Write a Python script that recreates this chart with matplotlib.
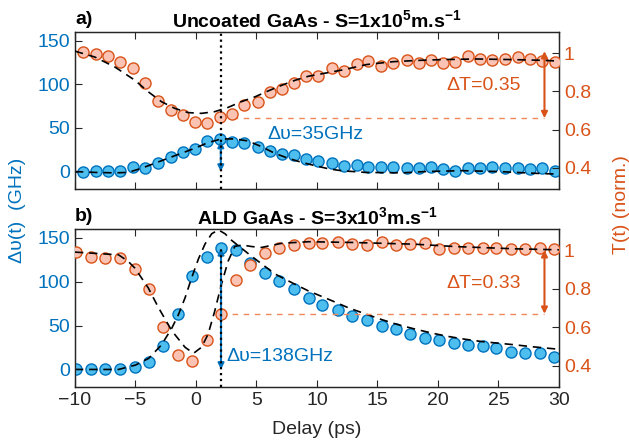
import numpy as np
from matplotlib import pyplot as plt

plt.rcParams['font.family'] = ['Liberation Sans', 'DejaVu Sans']
plt.rcParams['mathtext.fontset'] = 'custom'
plt.rcParams['mathtext.rm'] = 'Liberation Sans'
plt.rcParams['mathtext.bf'] = 'Liberation Sans:bold'
plt.rcParams['mathtext.default'] = 'bf'

BLUE = '#0072BD'
BLUE_FACE = '#4DBEEE'
ORANGE = '#D95319'
ORANGE_FACE = '#FBC3B3'
ORANGE_LINE = '#EE875A'

# a) uncoated GaAs
top_delay = [-9.3, -8.3, -7.3, -6.3, -5.2, -4.2, -3.1, -2.1, -1.1, -0.1,
             0.9, 2.0, 3.0, 4.0, 5.1, 6.1, 7.1, 8.1, 9.1, 10.1,
             11.2, 12.2, 13.3, 14.2, 15.3, 16.3, 17.4, 18.4, 19.4, 20.4,
             21.4, 22.5, 23.5, 24.5, 25.5, 26.6, 27.6, 28.6, 29.7]
top_shift = [0, 0.8, 1.1, 0.8, 5, 3.9, 10.3, 17.2, 22.9, 26,
             35.2, 37, 34.4, 33.2, 28.6, 24, 20.3, 19.1, 14.5, 12.3,
             10.3, 6.9, 7.7, 5.7, 5.7, 5.7, 3.9, 3.9, 5.7, 3.1,
             1.1, 4.6, 4.6, 5.7, 4.6, 4.6, 3.1, 3.9, 1.1]
top_T = [1.005, 0.993, 0.983, 0.953, 0.922, 0.846, 0.751, 0.702, 0.677, 0.639,
         0.635, 0.668, 0.682, 0.727, 0.742, 0.796, 0.810, 0.844, 0.879, 0.879,
         0.922, 0.907, 0.945, 0.957, 0.933, 0.950, 0.962, 0.950, 0.966, 0.950,
         0.955, 0.986, 0.967, 0.962, 0.969, 0.979, 0.971, 0.960, 0.953]

top_fit_T_delay = [-10, -8.35, -6.7, -5.05, -3.95, -2.85, -1.75, -0.65, 0.45, 1.55,
                   2.65, 3.75, 4.9, 6.0, 7.1, 8.2, 9.3, 10.25, 12.2, 14.1,
                   16.3, 18.5, 20.4, 23.2, 26.0, 28.7, 30]
top_fit_T = [1.01, 0.979, 0.927, 0.858, 0.798, 0.746, 0.711, 0.689, 0.685, 0.694,
             0.716, 0.746, 0.772, 0.803, 0.832, 0.858, 0.879, 0.89, 0.913, 0.94,
             0.955, 0.962, 0.966, 0.969, 0.966, 0.962, 0.958]
top_fit_shift_delay = [-10, -8.35, -6.7, -5.6, -4.5, -3.4, -2.3, -1.2, -0.1, 1.0,
                       2.1, 3.2, 4.3, 5.4, 6.5, 7.6, 8.7, 9.8, 11, 12,
                       14, 17, 19, 22, 25, 28, 30]
top_fit_shift = [0, -1, -1.5, -1, 3.8, 9.5, 15.3, 21, 26.7, 33.2,
                 37.4, 37.4, 35.1, 28.6, 21, 15.3, 10.7, 6.9, 3, 1,
                 -1, -1.5, 0, 1, 0, -2, -3]

# b) ALD GaAs
bot_delay = [-9.9, -8.7, -7.5, -6.3, -5.0, -3.9, -2.7, -1.5, -0.3, 0.9,
             2.1, 3.3, 4.5, 5.7, 6.9, 8.1, 9.3,
             10.4, 11.7, 12.9, 14.1, 15.4, 16.5, 17.7, 18.9, 20.1, 21.3,
             22.5, 23.7, 24.8, 26.0, 27.2, 28.4, 29.6]
bot_shift = [0.4, 0, 0, 0.4, 3.1, 8.8, 27.2, 63.7, 105.9, 127.7,
             138, 136.2, 121.2, 109.7, 100.9, 91.3, 81.7,
             73.3, 67.5, 61.4, 56, 49.9, 46, 40.7, 36.4, 33, 29.9,
             28, 26.9, 24.2, 20.3, 19.2, 19.2, 14.6]
bot_T = [0.99, 0.967, 0.962, 0.962, 0.902, 0.799, 0.599, 0.456, 0.424, 0.534,
         0.671, 0.844, 0.924, 0.984, 1.01, 1.027, 1.036,
         1.036, 1.041, 1.031, 1.027, 1.044, 1.027, 1.031, 1.036, 1.005, 1.01,
         1.01, 1.01, 1.01, 1.005, 1.005, 1.01, 1.005]

bot_fit_T_delay = [-10, -6.4, -5.6, -5.05, -3.95, -3.1, -2.0, -0.9, -0.2, 0.45,
                   1.0, 1.55, 2.1, 2.65, 3.2, 3.8, 4.6, 5.4, 7.1, 9.3,
                   13, 18.1, 21.4, 26.4, 30]
bot_fit_T = [0.99, 0.976, 0.942, 0.907, 0.805, 0.702, 0.582, 0.496, 0.465, 0.496,
             0.564, 0.684, 0.822, 0.942, 1.019, 1.027, 1.019, 1.014, 1.036, 1.044,
             1.04, 1.031, 1.019, 1.007, 1.002]
bot_fit_shift_delay = [-10, -6.4, -5.0, -3.9, -2.85, -2.0, -1.45, -0.9, -0.35, 0.2,
                       0.75, 1.3, 1.85, 2.4, 2.95, 3.5, 4.35, 5.45, 6.55, 7.9,
                       9.3, 10.25, 11.2, 12.6, 14.0, 15.35, 16.7, 18.1, 19.5, 20.85,
                       22.2, 23.6, 25.0, 26.4, 27.7, 30]
bot_fit_shift = [0, 0, 5, 12.7, 28, 47, 62.5, 81.7, 104.7, 125.8,
                 143, 154.6, 159, 154.6, 147, 141, 131.6, 120, 108.6, 99,
                 89.4, 84, 78.5, 70.2, 63.3, 56.8, 51, 46, 41.4, 37.6,
                 34.5, 31.8, 29.9, 28, 26, 23]

panels = [
    dict(letter='a)', title=r'Uncoated GaAs - S=1x10$^5$m.s$^{-1}$',
         delay=top_delay, shift=top_shift, T=top_T,
         fit_T_delay=top_fit_T_delay, fit_T=top_fit_T,
         fit_shift_delay=top_fit_shift_delay, fit_shift=top_fit_shift,
         t0=2.05, dv=35, dv_text=(5.9, 42), T_low=0.66, dT=0.35, full_dots=True),
    dict(letter='b)', title=r'ALD GaAs - S=3x10$^3$m.s$^{-1}$',
         delay=bot_delay, shift=bot_shift, T=bot_T,
         fit_T_delay=bot_fit_T_delay, fit_T=bot_fit_T,
         fit_shift_delay=bot_fit_shift_delay, fit_shift=bot_fit_shift,
         t0=2.07, dv=138, dv_text=(2.5, 15), T_low=0.67, dT=0.33, full_dots=False),
]

fig = plt.figure(figsize=(6.29, 4.45), dpi=100)
rects = [[0.1192, 0.5753, 0.7695, 0.3528], [0.1192, 0.1303, 0.7695, 0.3551]]
fs = 14


def to_T(v):
    # left-axis value expressed in right-axis units
    return 0.29 + 0.82 * (v + 20) / 180


for i, (p, r) in enumerate(zip(panels, rects)):
    ax = fig.add_axes(r)
    ax2 = ax.twinx()

    ax.plot(p['delay'], p['shift'], 'o', ms=8, mfc=BLUE_FACE, mec=BLUE, mew=1, zorder=3)
    ax.plot(p['fit_shift_delay'], p['fit_shift'], '--', color='k', lw=1.2, dashes=(5, 3.5), zorder=4)
    ax2.plot(p['delay'], p['T'], 'o', ms=8, mfc=ORANGE_FACE, mec=ORANGE, mew=1, zorder=3)
    ax2.plot(p['fit_T_delay'], p['fit_T'], '--', color='k', lw=1.2, dashes=(5, 3.5), zorder=4)

    # frequency shift arrow at the delay of maximum shift
    ax2.annotate('', xy=(p['t0'], to_T(0)), xytext=(p['t0'], to_T(p['dv'])),
                 arrowprops=dict(arrowstyle='<|-|>', color=BLUE, lw=1.5,
                                 mutation_scale=9, shrinkA=0, shrinkB=0), zorder=5)
    if p['full_dots']:
        ax2.axvline(p['t0'], color='k', ls=':', lw=1.6, zorder=6)
    else:
        ax2.plot([p['t0'], p['t0']], [0.29, to_T(p['dv'])],
                 color='k', ls=':', lw=1.6, zorder=6)
    ax2.text(p['dv_text'][0], to_T(p['dv_text'][1]),
             'Δυ=%dGHz' % p['dv'], color=BLUE, fontsize=fs, va='center', zorder=7)

    # transmission drop
    ax2.plot([p['t0'], 28.8], [p['T_low'], p['T_low']], color=ORANGE_LINE, lw=1,
             dashes=(4, 4), zorder=2)
    ax2.annotate('', xy=(28.8, p['T_low']), xytext=(28.8, p['T_low'] + p['dT']),
                 arrowprops=dict(arrowstyle='<|-|>', color=ORANGE, lw=1.5,
                                 mutation_scale=9, shrinkA=0, shrinkB=0))
    ax2.text(23.75, 0.829, 'ΔT=%.2f' % p['dT'], color=ORANGE, fontsize=fs,
             ha='center', va='center')

    ax.set_xlim(-10, 30)
    ax.set_ylim(-20, 160)
    ax2.set_ylim(0.29, 1.11)
    ax.set_xticks(np.arange(-10, 31, 5))
    ax.set_yticks([0, 50, 100, 150])
    ax2.set_yticks([0.4, 0.6, 0.8, 1.0])
    ax2.set_yticklabels(['0.4', '0.6', '0.8', '1'])
    ax.tick_params(direction='in', top=True, length=5, width=0.8, labelsize=fs,
                   colors='#262626')
    ax.tick_params(axis='y', labelcolor=BLUE)
    ax2.tick_params(direction='in', length=5, width=0.8, labelsize=fs,
                    colors='#262626')
    ax2.tick_params(axis='y', labelcolor=ORANGE)
    if i == 0:
        ax.tick_params(labelbottom=False)
    for a in (ax, ax2):
        for s in a.spines.values():
            s.set_color('#262626')
            s.set_linewidth(0.9)

    top_px = 445 * (1 - (r[1] + r[3]))
    fig.text(75 / 629, 1 - (top_px - 12) / 445, p['letter'], fontsize=fs,
             fontweight='bold', va='center', ha='left')
    fig.text(317 / 629, 1 - (top_px - 12) / 445, p['title'], fontsize=fs,
             fontweight='bold', va='center', ha='center')

fig.text(18 / 629, 1 - 210 / 445, 'Δυ(t)  (GHz)', color=BLUE, fontsize=fs,
         rotation=90, va='center', ha='center')
fig.text(621 / 629, 1 - 205 / 445, 'T(t) (norm.)', color=ORANGE, fontsize=fs,
         rotation=90, va='center', ha='center')
fig.text(317 / 629, 1 - 430 / 445, 'Delay (ps)', color='#262626', fontsize=fs,
         va='center', ha='center')

plt.savefig('out.png', dpi=100)
